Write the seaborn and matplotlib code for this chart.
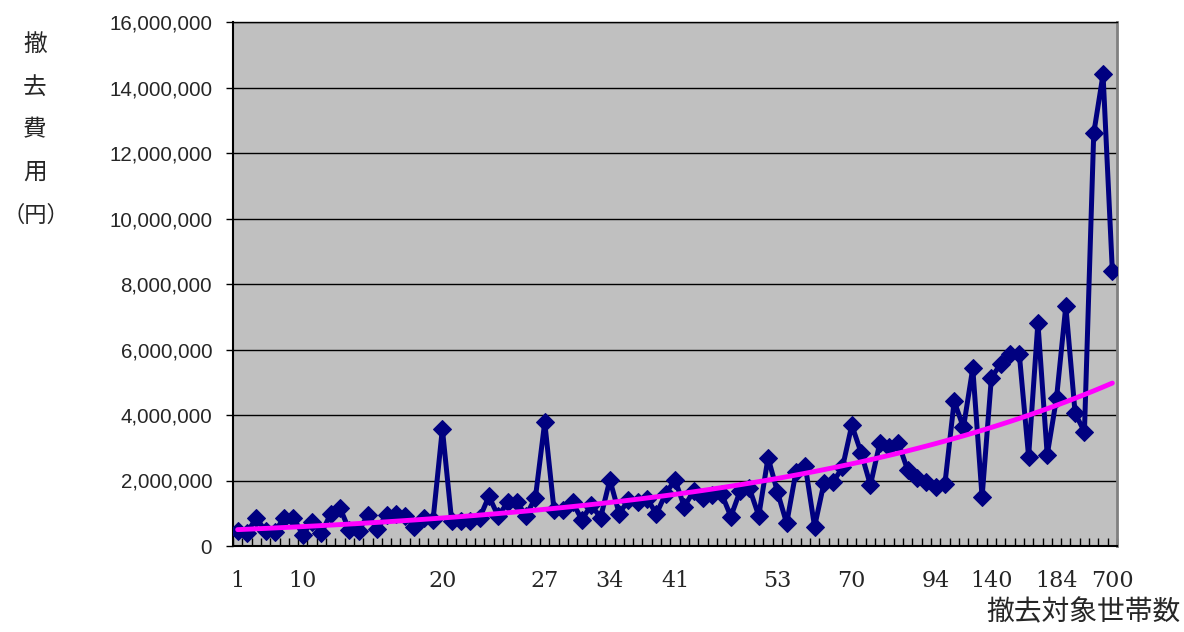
import numpy as np
import pandas as pd
import matplotlib
matplotlib.use("Agg")
import matplotlib.pyplot as plt
import seaborn as sns
from matplotlib.ticker import FuncFormatter, FixedLocator

# ---- data ----
costs_m = [0.47, 0.40, 0.86, 0.45, 0.44, 0.87, 0.86, 0.35, 0.74, 0.40,
           0.98, 1.16, 0.48, 0.47, 0.94, 0.52, 0.95, 0.97, 0.93, 0.58,
           0.85, 0.80, 3.58, 0.76, 0.77, 0.77, 0.85, 1.52, 0.91, 1.33,
           1.33, 0.93, 1.48, 3.78, 1.10, 1.10, 1.33, 0.80, 1.26, 0.86,
           2.02, 0.99, 1.40, 1.33, 1.45, 0.98, 1.60, 2.02, 1.20, 1.68,
           1.46, 1.55, 1.60, 0.90, 1.68, 1.76, 0.92, 2.70, 1.66, 0.69,
           2.27, 2.45, 0.59, 1.91, 1.96, 2.40, 3.69, 2.85, 1.86, 3.13,
           3.03, 3.15, 2.32, 2.07, 1.96, 1.79, 1.88, 4.42, 3.62, 5.43,
           1.49, 5.14, 5.56, 5.86, 5.86, 2.73, 6.82, 2.78, 4.51, 7.33,
           4.05, 3.49, 12.6, 14.4, 8.4]
x_labels = ["1", "10", "20", "27", "34", "41", "53", "70", "94", "140", "184", "700"]
x_label_idx = [0, 7, 22, 33, 40, 47, 58, 66, 75, 81, 88, 94]
y_ticks = [0, 2000000, 4000000, 6000000, 8000000, 10000000, 12000000, 14000000, 16000000]

costs = np.array(costs_m) * 1_000_000
idx = np.arange(len(costs))
df = pd.DataFrame({"idx": idx, "cost": costs})

# exponential trend line (least squares on log values, like a spreadsheet trendline)
b, ln_a = np.polyfit(idx + 1, np.log(costs), 1)
df["trend"] = np.exp(ln_a + b * (idx + 1))

sns.set_theme(style="white")
plt.rcParams['font.family'] = ['Liberation Sans', 'Noto Sans CJK JP', 'DejaVu Sans']

fig = plt.figure(figsize=(11.84, 6.32), dpi=100)
ax = fig.add_axes([233/1184, 1 - 546/632, (1117-233)/1184, (546-22)/632])
ax.set_facecolor("#C0C0C0")

sns.lineplot(data=df, x="idx", y="cost", ax=ax, color="#000080", linewidth=3.6,
             marker="D", markersize=9.5, markeredgecolor="#000080", zorder=3)
sns.lineplot(data=df, x="idx", y="trend", ax=ax, color="#FF00FF", linewidth=3.5, zorder=4)

ax.set_xlim(-0.5, len(costs) - 0.5)
ax.set_ylim(0, 16000000)
ax.set_yticks(y_ticks)
ax.yaxis.set_major_formatter(FuncFormatter(lambda v, p: f"{v:,.0f}"))
ax.yaxis.grid(True, color="black", linewidth=1.0)
ax.set_axisbelow(True)

ax.set_xticks(x_label_idx)
ax.set_xticklabels(x_labels, fontfamily="DejaVu Serif", fontsize=16)
ax.xaxis.set_minor_locator(FixedLocator(np.arange(len(costs) + 1) - 0.5))
ax.tick_params(axis="x", which="major", length=0, pad=17)
ax.tick_params(axis="x", which="minor", direction="in", length=6, width=1, color="black", bottom=True)
ax.tick_params(axis="y", which="major", direction="out", length=5, width=1, color="black",
               labelsize=14.8, pad=10, left=True)

for s in ["left", "bottom"]:
    ax.spines[s].set_color("black")
    ax.spines[s].set_linewidth(1.5)
ax.spines["right"].set_color("#808080")
ax.spines["right"].set_linewidth(2)
ax.spines["top"].set_color("black")
ax.spines["top"].set_linewidth(1)

ax.set_xlabel("")
ax.set_ylabel("")

cjk = ['Noto Sans CJK JP']
fig.text(35/1184, 1 - 44/632, "撤", ha="center", va="center", fontsize=17, family=cjk)
fig.text(35/1184, 1 - 87/632, "去", ha="center", va="center", fontsize=17, family=cjk)
fig.text(35/1184, 1 - 130/632, "費", ha="center", va="center", fontsize=17, family=cjk)
fig.text(35/1184, 1 - 172/632, "用", ha="center", va="center", fontsize=17, family=cjk)
fig.text(2/1184, 1 - 215/632, "（円）", ha="left", va="center", fontsize=16, family=cjk)
fig.text(1181/1184, 1 - 612/632, "撤去対象世帯数", ha="right", va="center", fontsize=20,
         family=cjk)

fig.savefig("out.png", dpi=100, facecolor="white")
